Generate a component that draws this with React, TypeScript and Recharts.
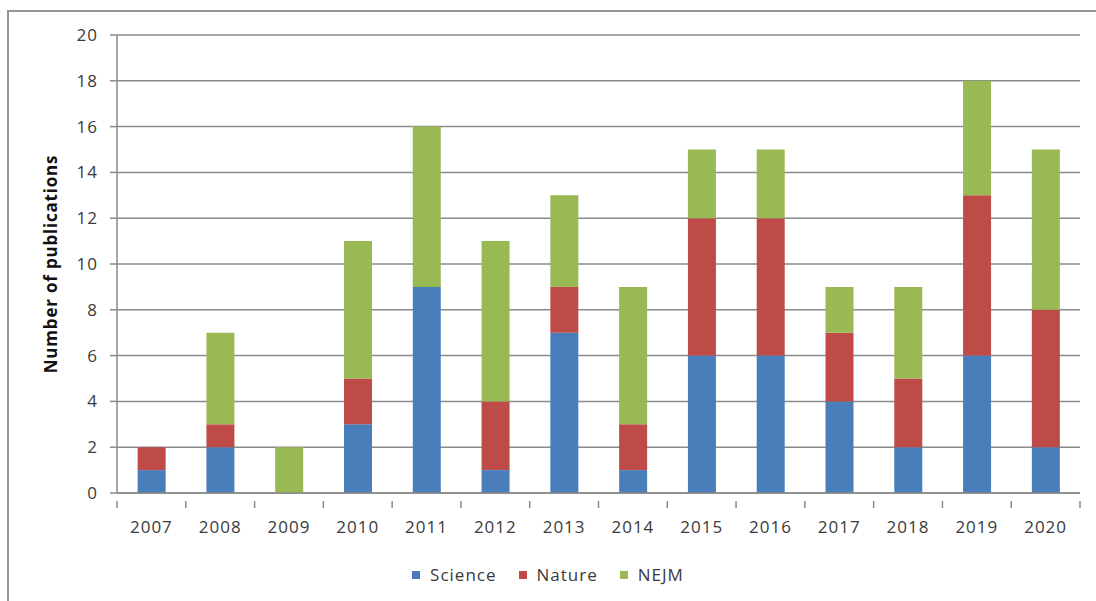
import React from "react";
import { BarChart, Bar, XAxis, YAxis, CartesianGrid, Legend } from "recharts";

const years = ["2007","2008","2009","2010","2011","2012","2013","2014","2015","2016","2017","2018","2019","2020"];
const science = [1, 2, 0, 3, 9, 1, 7, 1, 6, 6, 4, 2, 6, 2];
const nature = [1, 1, 0, 2, 0, 3, 2, 2, 6, 6, 3, 3, 7, 6];
const nejm = [0, 4, 2, 6, 7, 7, 4, 6, 3, 3, 2, 4, 5, 7];
const yTicks = [0, 2, 4, 6, 8, 10, 12, 14, 16, 18, 20];

const seriesInfo = [
  { key: "Science", color: "#4A7EBB" },
  { key: "Nature", color: "#BE4B48" },
  { key: "NEJM", color: "#98B954" },
];

const data = years.map((y, i) => ({
  year: y,
  Science: science[i],
  Nature: nature[i],
  NEJM: nejm[i],
}));

const FONT = "'Open Sans', 'Liberation Sans', sans-serif";
const TEXT = "#3a3a3a";
const GRID = "#8a8a8a";

const XTick = (props: any) => {
  const { x, y, payload, index, visibleTicksCount } = props;
  const off = payload && payload.offset ? payload.offset : 34.4;
  return (
    <g>
      <line x1={x - off} x2={x - off} y1={y} y2={y + 7} stroke={GRID} strokeWidth={1.5} />
      {index === (visibleTicksCount ?? years.length) - 1 && (
        <line x1={x + off} x2={x + off} y1={y} y2={y + 7} stroke={GRID} strokeWidth={1.5} />
      )}
      <text x={x} y={y + 32} textAnchor="middle" fill={TEXT} fontFamily={FONT} fontSize={17} letterSpacing={1}>
        {payload.value}
      </text>
    </g>
  );
};

const LegendContent = () => (
  <div style={{ display: "flex", justifyContent: "center", alignItems: "center", fontFamily: FONT, fontSize: 17, letterSpacing: 1, color: TEXT, paddingLeft: 22 }}>
    {seriesInfo.map((s) => (
      <div key={s.key} style={{ display: "flex", alignItems: "center", marginRight: 22 }}>
        <span style={{ display: "inline-block", width: 8, height: 8, background: s.color, marginRight: 10 }} />
        <span>{s.key}</span>
      </div>
    ))}
  </div>
);

export default function App() {
  return (
    <div style={{ position: "absolute", left: 0, top: 0, width: 1096, height: 601, background: "#fff" }}>
      <div style={{ position: "absolute", left: 7, top: 10, width: 1089, height: 591, borderTop: "2px solid #949494", borderLeft: "2px solid #949494" }} />
      <div style={{ position: "absolute", left: 0, top: 0 }}>
        <BarChart width={1096} height={601} data={data} margin={{ top: 35, right: 16, left: 0, bottom: 78 }} barCategoryGap="30%">
          <CartesianGrid vertical={false} stroke={GRID} strokeWidth={1.5} />
          <XAxis
            dataKey="year"
            height={30}
            tickLine={false}
            axisLine={{ stroke: GRID, strokeWidth: 1.5 }}
            tick={<XTick />}
            interval={0}
          />
          <YAxis
            width={117}
            domain={[0, 20]}
            ticks={yTicks}
            interval={0}
            tickSize={7}
            tickMargin={12}
            tickLine={{ stroke: GRID, strokeWidth: 1.5 }}
            axisLine={{ stroke: GRID, strokeWidth: 1.5 }}
            tick={{ fill: TEXT, fontFamily: FONT, fontSize: 17, letterSpacing: 1 }}
            label={{
              value: "Number of publications",
              angle: -90,
              position: "insideLeft",
              dx: 46,
              style: { fill: "#111", fontFamily: FONT, fontSize: 17, fontWeight: 700, letterSpacing: 0.8, textAnchor: "middle" },
            }}
          />
          <Legend
            layout="horizontal"
            verticalAlign="middle"
            align="center"
            wrapperStyle={{ top: 563, left: 0, width: 1096 }}
            content={<LegendContent />}
          />
          {seriesInfo.map((s) => (
            <Bar key={s.key} dataKey={s.key} stackId="a" fill={s.color} isAnimationActive={false} />
          ))}
        </BarChart>
      </div>
    </div>
  );
}
